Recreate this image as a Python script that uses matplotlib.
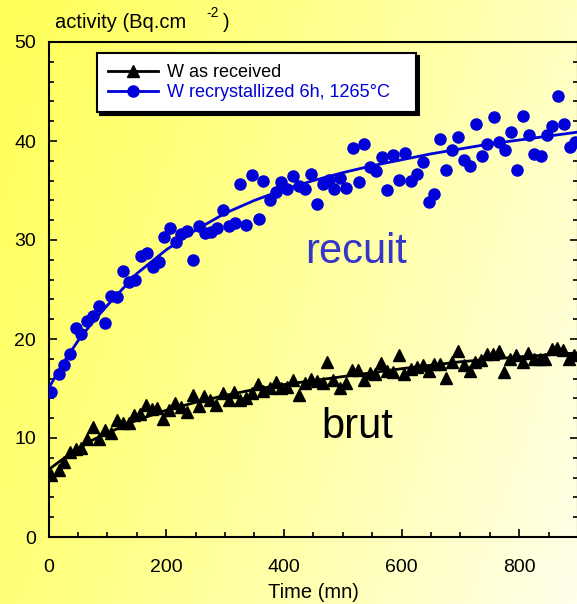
import numpy as np
import matplotlib
matplotlib.use('Agg')
import matplotlib.pyplot as plt
from matplotlib.ticker import MultipleLocator

plt.rcParams['font.family'] = ['Liberation Sans', 'DejaVu Sans']

#~~~~~~~~~ DATA ~~~~~~~~~#
# W recrystallized 6h, 1265 C
recuit_t = [5, 17, 26, 37, 47, 56, 66, 75, 86, 96,
            106, 116, 126, 137, 147, 157, 167, 177, 187, 196,
            207, 216, 226, 236, 246, 256, 266, 276, 286, 296,
            307, 317, 326, 336, 346, 357, 365, 377, 386, 395,
            406, 416, 426, 436, 446, 456, 466, 476, 486, 496,
            506, 517, 527, 537, 546, 557, 567, 576, 586, 595,
            606, 616, 626, 636, 646, 656, 666, 676, 686, 696,
            706, 716, 726, 736, 746, 757, 766, 776, 786, 796,
            807, 816, 826, 837, 847, 856, 866, 876, 886, 895]
recuit_y = [14.6, 16.5, 17.4, 18.5, 21.1, 20.5, 21.8, 22.3, 23.3, 21.6,
            24.3, 24.2, 26.9, 25.8, 26.0, 28.4, 28.7, 27.3, 27.8, 30.3,
            31.2, 29.8, 30.6, 30.9, 28.0, 31.4, 30.7, 30.8, 31.2, 33.0,
            31.4, 31.7, 35.7, 31.5, 36.6, 32.1, 36.0, 34.0, 34.8, 35.9,
            35.2, 36.5, 35.5, 35.2, 36.7, 33.6, 35.7, 36.1, 35.2, 36.3,
            35.3, 39.3, 35.9, 39.7, 37.4, 37.0, 38.4, 35.1, 38.6, 36.1,
            38.8, 36.0, 36.7, 37.9, 33.8, 34.6, 40.2, 37.1, 39.1, 40.4,
            38.1, 37.5, 41.7, 38.5, 39.7, 42.4, 39.9, 39.1, 40.9, 37.1,
            42.5, 40.6, 38.7, 38.5, 40.6, 41.5, 44.5, 41.7, 39.4, 39.9]

# W as received
brut_t = [5, 17, 26, 37, 46, 56, 66, 75, 86, 96,
          106, 116, 126, 136, 145, 156, 166, 176, 185, 195,
          205, 215, 225, 235, 245, 255, 265, 275, 285, 296,
          306, 316, 326, 336, 346, 356, 365, 376, 386, 395,
          406, 416, 426, 436, 446, 456, 466, 474, 484, 495,
          505, 516, 526, 536, 546, 555, 565, 575, 585, 595,
          605, 616, 626, 636, 646, 656, 666, 676, 686, 696,
          706, 716, 725, 735, 745, 755, 766, 775, 785, 795,
          806, 815, 825, 835, 844, 855, 864, 875, 885, 894]
brut_y = [6.3, 6.8, 7.6, 8.6, 8.9, 9.0, 9.9, 11.1, 9.9, 10.8,
          10.5, 11.8, 11.5, 11.5, 12.3, 12.4, 13.3, 12.9, 13.0, 11.9,
          12.8, 13.5, 13.1, 12.6, 14.3, 13.2, 14.2, 13.8, 13.3, 14.5,
          13.8, 14.6, 13.8, 14.0, 14.5, 15.5, 14.7, 15.1, 15.7, 15.1,
          15.2, 15.9, 14.3, 15.6, 16.0, 15.8, 15.6, 17.7, 15.9, 15.1,
          15.6, 16.9, 16.9, 15.9, 16.6, 16.5, 17.6, 16.8, 16.7, 18.4,
          16.5, 17.0, 17.2, 17.4, 16.8, 17.5, 17.5, 16.1, 17.7, 18.8,
          17.4, 16.8, 17.7, 17.9, 18.5, 18.5, 18.8, 16.7, 18.0, 18.4,
          17.7, 18.6, 18.0, 18.0, 18.0, 19.0, 19.1, 18.9, 18.0, 18.4]

# fitted curves
fit_t = [0, 25, 50, 75, 100, 150, 200, 250, 300, 350, 400, 450,
         500, 550, 600, 650, 700, 750, 800, 850, 900]
fit_recuit = [15.0, 17.6, 19.8, 21.7, 23.4, 26.6, 29.0, 31.0, 32.7, 34.0, 35.1, 36.0,
              36.8, 37.5, 38.1, 38.7, 39.2, 39.7, 40.1, 40.5, 40.9]
fit_brut = [6.8, 7.9, 8.9, 9.8, 10.5, 11.8, 12.8, 13.6, 14.3, 14.9, 15.4, 15.8,
            16.2, 16.6, 17.0, 17.35, 17.7, 17.95, 18.2, 18.4, 18.6]

label_brut = 'W as received'
label_recuit = 'W recrystallized 6h, 1265°C'

#=============PLOTTING==============#
W, H = 577, 604
fig = plt.figure(figsize=(W / 100, H / 100), dpi=100)

# yellow gradient background with faint diagonal stripes
bg = fig.add_axes([0, 0, 1, 1])
bg.axis('off')
yy, xx = np.mgrid[0:H, 0:W]
t = 0.85 * xx / W + 0.3 * yy / H
t = (t - t.min()) / (t.max() - t.min())
t = t ** 1.15
c0 = np.array([1.0, 1.0, 0.33])
c1 = np.array([1.0, 1.0, 0.92])
img = c0[None, None, :] * (1 - t[..., None]) + c1[None, None, :] * t[..., None]
stripes = ((xx + yy) % 9) < 1.5
img[stripes] = img[stripes] * 0.88 + 0.12
bg.imshow(img, extent=[0, 1, 0, 1], aspect='auto', interpolation='nearest')
bg.set_xlim(0, 1)
bg.set_ylim(0, 1)

ax = fig.add_axes([48.5 / W, 1 - 537 / H, 529.5 / W, 495 / H])
ax.patch.set_alpha(0)

ax.plot(fit_t, fit_brut, '-', color='black', lw=2, zorder=3)
ax.plot(fit_t, fit_recuit, '-', color='#0000d8', lw=2, zorder=3)
ax.plot(brut_t, brut_y, '^', color='black', markersize=8, zorder=4)
ax.plot(recuit_t, recuit_y, 'o', color='#0000d8', markersize=8, zorder=4)

# legend proxies (line + marker)
h1, = ax.plot([], [], '-^', color='black', lw=2, markersize=8)
h2, = ax.plot([], [], '-o', color='#0000d8', lw=2, markersize=8)

ax.set_xlim(0, 900)
ax.set_ylim(0, 50)
ax.xaxis.set_major_locator(MultipleLocator(200))
ax.xaxis.set_minor_locator(MultipleLocator(50))
ax.yaxis.set_major_locator(MultipleLocator(10))
ax.yaxis.set_minor_locator(MultipleLocator(2))
ax.tick_params(which='both', direction='in', left=True, right=True, bottom=True, top=False,
               width=1.2, colors='black', labelsize=14)
ax.tick_params(which='major', length=6)
ax.tick_params(which='minor', length=3.5)
ax.tick_params(axis='x', pad=16)
ax.tick_params(axis='y', pad=9)
for s in ax.spines.values():
    s.set_linewidth(1.5)
ax.set_xlabel('Time (mn)', fontsize=14.5, labelpad=5)

fig.text(55 / W, 1 - 28 / H, 'activity (Bq.cm', fontsize=14.5, ha='left', va='baseline')
fig.text(206 / W, 1 - 17 / H, '-2', fontsize=10, ha='left', va='baseline')
fig.text(223 / W, 1 - 28 / H, ')', fontsize=14.5, ha='left', va='baseline')

ax.text(436, 27.7, 'recuit', fontsize=30, color='#3535c8', ha='left', va='baseline')
ax.text(463, 10.0, 'brut', fontsize=30, color='black', ha='left', va='baseline')

leg = ax.legend([h1, h2], [label_brut, label_recuit],
                loc='upper left', mode='expand',
                bbox_to_anchor=(97 / W, 1 - 112 / H, 319 / W, 59 / H),
                bbox_transform=fig.transFigure, borderaxespad=0,
                fontsize=13, handlelength=2.8, handletextpad=0.45,
                labelspacing=0.18, borderpad=0.6, fancybox=False,
                framealpha=1, edgecolor='black',
                shadow={'color': 'black', 'alpha': 1})
leg.get_frame().set_linewidth(1.5)
leg.get_texts()[1].set_color('#0000d8')

fig.savefig('out.png', dpi=100)
